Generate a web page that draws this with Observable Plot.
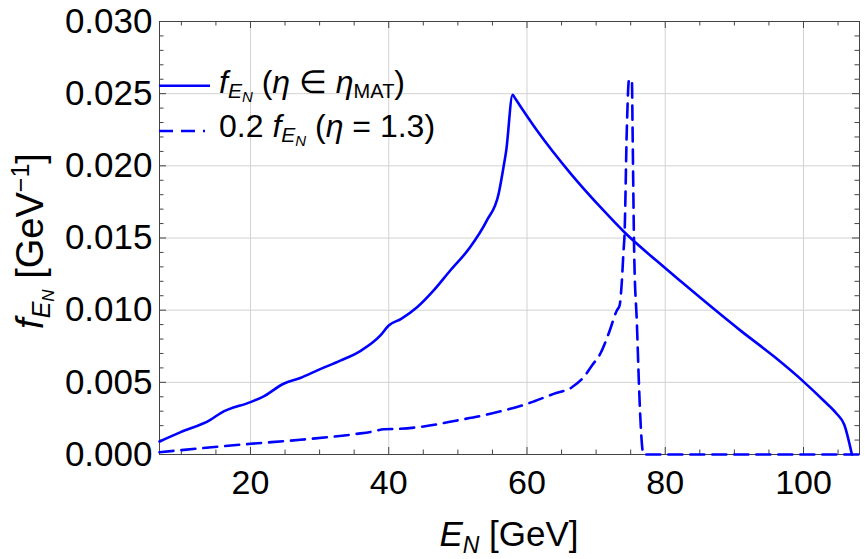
<!DOCTYPE html>
<html>
<head>
<meta charset="utf-8">
<script src="https://cdn.jsdelivr.net/npm/d3@7"></script>
<script src="https://cdn.jsdelivr.net/npm/@observablehq/plot@0.6"></script>
<style>
  html, body { margin: 0; padding: 0; background: #fff; }
  #chart svg { display: block; }
</style>
</head>
<body>
<div id="chart"></div>
<script>
// Energy distribution of N, averaged over the MATHUSLA η range (solid)
// and at a single η = 1.3, scaled by 0.2 (dashed).
const E_mat = [6.84, 9.9, 14.2, 15.7, 20, 21.7, 24.8, 27.2, 30, 33, 36, 38.8, 40, 41.8, 44.1, 46.5, 48.9, 51.6, 54.2, 55.9, 56.6, 57.0, 57.92, 58.3, 61.45, 66.26, 71.07, 74.1, 78.8, 82.16, 90.85, 95.7, 100, 102.9, 104.8, 105.9, 107.0];
const f_mat = [0.0009, 0.00155, 0.0024, 0.00287, 0.00363, 0.00397, 0.0049, 0.0053, 0.0059, 0.0065, 0.0072, 0.00825, 0.00894, 0.0094, 0.0102, 0.01137, 0.01275, 0.01425, 0.01622, 0.01807, 0.0199, 0.02107, 0.02493, 0.02466, 0.02245, 0.0195, 0.01691, 0.0154, 0.0134, 0.01203, 0.0086, 0.0068, 0.00505, 0.00374, 0.00282, 0.00206, 0];

const E_eta13 = [6.84, 20, 27.2, 35.4, 37.8, 39.3, 41.7, 45.05, 49.9, 54.7, 60.0, 63.85, 66.5, 68.2, 69.4, 70.6, 71.8, 73.0, 73.4, 73.7, 73.97, 74.1, 74.45, 74.74, 74.93, 75.18, 75.27, 75.51, 75.9, 76.23, 76.52, 76.86, 108.1];
const f_eta13 = [0.00016, 0.00074, 0.00102, 0.00143, 0.0016, 0.00175, 0.00178, 0.00194, 0.00236, 0.00282, 0.00351, 0.0042, 0.00466, 0.00536, 0.00617, 0.00698, 0.00836, 0.00998, 0.01033, 0.01183, 0.01414, 0.0151, 0.02268, 0.0259, 0.026, 0.0259, 0.02268, 0.0139, 0.00906, 0.00444, 0.00143, 0, 0];

// Axis ticks
const xMajor = [20, 40, 60, 80, 100];
const xMinor = [10, 15, 25, 30, 35, 45, 50, 55, 65, 70, 75, 85, 90, 95, 105];
const yMajor = [0, 0.005, 0.010, 0.015, 0.020, 0.025, 0.030];
const yMinor = [0.001, 0.002, 0.003, 0.004, 0.006, 0.007, 0.008, 0.009, 0.011, 0.012, 0.013, 0.014,
                0.016, 0.017, 0.018, 0.019, 0.021, 0.022, 0.023, 0.024, 0.026, 0.027, 0.028, 0.029];
const xDomain = [6.84, 108.1];
const yDomain = [0, 0.03];

const mat = E_mat.map((e, i) => ({E: e, f: f_mat[i]}));
const eta13 = E_eta13.map((e, i) => ({E: e, f: f_eta13[i]}));

// Layout
const W = 865, H = 559;
const mL = 159, mR = 6, mT = 21, mB = 105;
const plotW = W - mL - mR, plotH = H - mT - mB;
const majorLen = 7, minorLen = 4.5;
const frameColor = "#444";
const gridColor = "#d2d2d2";
const blue = "#0000ff";
const font = "'Liberation Sans', Arial, Helvetica, sans-serif";

// Inward-pointing frame ticks on all four sides
const tickRules = (xs, ys, len) => [
  Plot.ruleX(xs, {x: d => d, insetTop: plotH - len, stroke: frameColor}),
  Plot.ruleX(xs, {x: d => d, insetBottom: plotH - len, stroke: frameColor}),
  Plot.ruleY(ys, {y: d => d, insetRight: plotW - len, stroke: frameColor}),
  Plot.ruleY(ys, {y: d => d, insetLeft: plotW - len, stroke: frameColor})
];

const chart = Plot.plot({
  width: W,
  height: H,
  marginLeft: mL, marginRight: mR, marginTop: mT, marginBottom: mB,
  x: {domain: xDomain},
  y: {domain: yDomain},
  style: {fontFamily: font, fontSize: "34px", color: "#000", background: "#fff"},
  marks: [
    Plot.gridX(xMajor, {stroke: gridColor, strokeOpacity: 1}),
    Plot.gridY(yMajor, {stroke: gridColor, strokeOpacity: 1}),
    ...tickRules(xMajor, yMajor, majorLen),
    ...tickRules(xMinor, yMinor, minorLen),
    Plot.frame({stroke: frameColor, strokeWidth: 1}),
    Plot.line(mat, {x: "E", y: "f", stroke: blue, strokeWidth: 2.6, curve: "monotone-x"}),
    Plot.line(eta13, {x: "E", y: "f", stroke: blue, strokeWidth: 2.6, curve: "monotone-x", strokeDasharray: "14,8"}),
    Plot.axisX(xMajor, {tickSize: 0, tickPadding: 15, label: null, fontSize: 34}),
    Plot.axisY(yMajor, {tickSize: 0, tickPadding: 7, label: null, fontSize: 35, tickFormat: d3.format(".3f")})
  ]
});

document.getElementById("chart").appendChild(chart);
const svg = d3.select(chart);

// Rich text with italic / sub- and superscript pieces.
// Each part: t text, it italic, s font size (px), b baseline offset (px, + is down)
function richText(parent, parts, attrs) {
  const t = parent.append("text")
    .attr("font-family", font)
    .attr("fill", "#000")
    .attr("text-anchor", "start");
  for (const [k, v] of Object.entries(attrs)) t.attr(k, v);
  let prev = 0;
  for (const p of parts) {
    const b = p.b || 0;
    t.append("tspan")
      .attr("font-size", p.s)
      .attr("font-style", p.it ? "italic" : "normal")
      .attr("dy", b - prev)
      .text(p.t);
    prev = b;
  }
  return t;
}

// Axis titles
richText(svg, [
  {t: "E", it: true, s: 35},
  {t: "N", it: true, s: 23, b: 7},
  {t: " [GeV]", s: 35}
], {x: mL + plotW / 2, y: 546, "text-anchor": "middle"});

richText(svg, [
  {t: "f", it: true, s: 38},
  {t: "E", it: true, s: 25, b: 7},
  {t: "N", it: true, s: 17, b: 11},
  {t: " [GeV", s: 38},
  {t: "\u22121", s: 25, b: -14},
  {t: "]", s: 38}
], {transform: "translate(43,241) rotate(-90)", "text-anchor": "middle"});

// Legend
const legend = svg.append("g");
legend.append("line")
  .attr("x1", mL).attr("x2", 210).attr("y1", 85.7).attr("y2", 85.7)
  .attr("stroke", blue).attr("stroke-width", 2.6);
legend.append("line")
  .attr("x1", mL).attr("x2", 205).attr("y1", 131).attr("y2", 131)
  .attr("stroke", blue).attr("stroke-width", 2.6).attr("stroke-dasharray", "14,8");

richText(legend, [
  {t: "f", it: true, s: 32},
  {t: "E", it: true, s: 21, b: 5},
  {t: "N", it: true, s: 15, b: 9},
  {t: " (", s: 32},
  {t: "\u03b7", it: true, s: 32},
  {t: " \u2208 ", s: 32},
  {t: "\u03b7", it: true, s: 32},
  {t: "MAT", s: 20, b: 5},
  {t: ")", s: 32}
], {x: 219, y: 93});

richText(legend, [
  {t: "0.2 ", s: 32},
  {t: "f", it: true, s: 32},
  {t: "E", it: true, s: 21, b: 5},
  {t: "N", it: true, s: 15, b: 9},
  {t: " (", s: 32},
  {t: "\u03b7", it: true, s: 32},
  {t: " = 1.3)", s: 32}
], {x: 219, y: 137});
</script>
</body>
</html>
